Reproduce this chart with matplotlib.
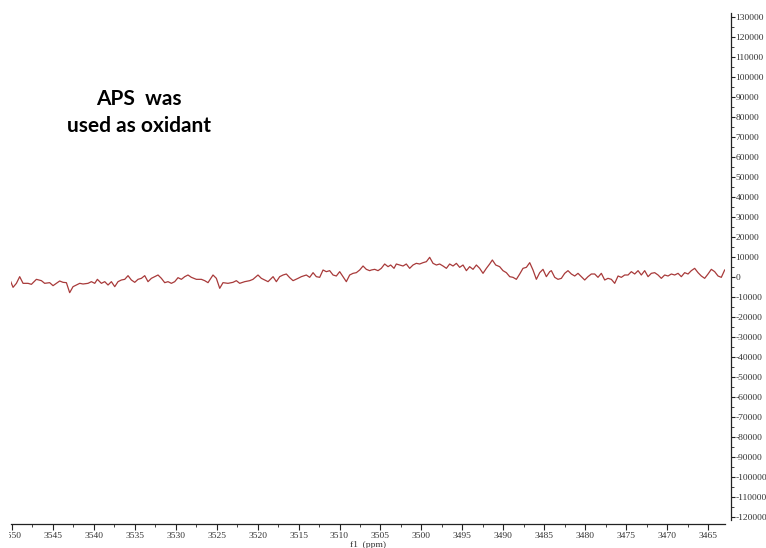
import matplotlib
matplotlib.use("Agg")
import matplotlib.pyplot as plt
from matplotlib.ticker import MultipleLocator, FuncFormatter
from matplotlib.transforms import Bbox

# Field position (ppm) and signal intensity of the recorded spectrum
shift_ppm = [
    3550.12, 3549.84, 3549.43, 3549.03, 3548.62, 3548.01, 3547.60, 3546.99, 3546.38, 3545.98,
    3545.37, 3544.96, 3544.55, 3544.15, 3543.74, 3543.33, 3542.93, 3542.52, 3542.11, 3541.70,
    3541.30, 3540.69, 3540.28, 3539.87, 3539.55, 3539.06, 3538.65, 3538.25, 3537.84, 3537.43,
    3537.03, 3536.62, 3536.21, 3535.81, 3535.40, 3534.99, 3534.59, 3534.18, 3533.77, 3533.37,
    3532.96, 3532.55, 3532.15, 3531.74, 3531.33, 3530.93, 3530.52, 3530.11, 3529.71, 3529.30,
    3528.89, 3528.49, 3528.08, 3527.47, 3526.86, 3526.45, 3526.05, 3525.44, 3525.03, 3524.62,
    3524.22, 3523.61, 3523.00, 3522.59, 3522.18, 3521.57, 3520.96, 3520.56, 3519.95, 3519.54,
    3519.13, 3518.72, 3518.11, 3517.71, 3517.30, 3516.89, 3516.49, 3516.08, 3515.67, 3515.06,
    3514.66, 3514.05, 3513.64, 3513.23, 3512.83, 3512.42, 3512.01, 3511.61, 3511.20, 3510.79,
    3510.39, 3509.98, 3509.57, 3509.17, 3508.76, 3508.35, 3507.95, 3507.54, 3507.13, 3506.73,
    3506.32, 3506.12, 3505.71, 3505.30, 3504.90, 3504.49, 3504.08, 3503.76, 3503.35, 3503.07,
    3502.66, 3502.25, 3501.85, 3501.44, 3501.03, 3500.63, 3500.22, 3499.81, 3499.40, 3499.00,
    3498.59, 3498.18, 3497.78, 3497.37, 3496.96, 3496.56, 3496.15, 3495.74, 3495.34, 3494.93,
    3494.52, 3494.12, 3493.71, 3493.30, 3492.90, 3492.49, 3492.08, 3491.68, 3491.35, 3490.94,
    3490.46, 3490.05, 3489.64, 3489.23, 3488.83, 3488.42, 3488.01, 3487.61, 3487.20, 3486.79,
    3486.39, 3485.98, 3485.57, 3485.17, 3484.76, 3484.35, 3484.15, 3483.74, 3483.34, 3482.93,
    3482.52, 3482.12, 3481.71, 3481.30, 3480.90, 3480.49, 3480.08, 3479.68, 3479.27, 3478.86,
    3478.46, 3478.05, 3477.64, 3477.24, 3476.83, 3476.42, 3476.01, 3475.61, 3475.20, 3474.79,
    3474.39, 3473.98, 3473.57, 3473.17, 3472.76, 3472.35, 3471.95, 3471.54, 3471.13, 3470.73,
    3470.32, 3469.91, 3469.51, 3469.10, 3468.69, 3468.29, 3467.88, 3467.47, 3467.07, 3466.66,
    3466.25, 3465.85, 3465.44, 3465.03, 3464.63, 3464.22, 3463.81, 3463.41, 3463.00,
]

intensity = [
    -2583, -5417, -3417, -83, -3417, -3417, -3917, -1417, -2083, -3417,
    -3083, -4583, -3417, -2250, -2917, -3083, -8083, -5083, -4250, -3417,
    -3750, -3417, -2583, -3417, -1417, -3417, -2583, -4250, -2583, -5083,
    -2583, -1750, -1417, 417, -1750, -2917, -1417, -917, 417, -2583,
    -917, -83, 750, -917, -3083, -2583, -3417, -2583, -583, -1417,
    -83, 750, -417, -1417, -1417, -2083, -3083, 750, -917, -5917,
    -3083, -3417, -2917, -2083, -3417, -2583, -2083, -1417, 750, -917,
    -1750, -2583, -83, -2583, -83, 750, 1250, -583, -2083, -917,
    -83, 750, -417, 1917, -83, -417, 3250, 2417, 2917, 750,
    250, 2417, -83, -2583, 750, 1583, 1917, 3250, 5250, 3583,
    2917, 3250, 3583, 2917, 4083, 6250, 4917, 5750, 4083, 6250,
    5750, 5250, 6250, 4083, 5750, 6583, 6250, 6917, 7417, 9583,
    6583, 5750, 6250, 5250, 4083, 6250, 5250, 6583, 4583, 5750,
    2917, 4917, 3583, 5750, 4083, 1583, 4083, 6250, 8250, 5750,
    4917, 2917, 1917, -83, -417, -1417, 1250, 4083, 4583, 6917,
    3250, -1417, 1917, 3583, -83, 2417, 2917, -417, -1417, -917,
    1583, 2917, 1250, 250, 1583, -83, -1750, -83, 1250, 1250,
    -417, 1583, -1750, -917, -1417, -3417, 250, -417, 750, 750,
    2417, 1250, 2917, 750, 2917, -83, 1583, 1917, 750, -917,
    750, 250, 1250, 750, 1583, -83, 1917, 1250, 2917, 4083,
    1917, 250, -917, 1250, 3583, 2417, 250, -417, 3250,
]

x_range = (3550.09, 3462.96)
y_range = (-121750, 131750)

W, H = 766, 548
fig = plt.figure(figsize=(W / 100, H / 100), dpi=100)
ax = fig.add_axes([11 / W, 1 - 520 / H, (725 - 11) / W, (520 - 13) / H])

ax.plot(shift_ppm, intensity, color="#a83a3a", linewidth=0.9)

ax.set_xlim(*x_range)
ax.set_ylim(*y_range)

tick_family = ["Liberation Serif", "DejaVu Serif"]
tick_size = 6.8
tick_color = "#333333"

# Spines: bottom scale and a detached intensity scale on the right
for side in ("top", "left"):
    ax.spines[side].set_visible(False)
ax.spines["bottom"].set_position(("outward", 3))
ax.spines["right"].set_position(("outward", 4))
for side in ("bottom", "right"):
    ax.spines[side].set_color("#222222")
    ax.spines[side].set_linewidth(0.9)

ax.xaxis.set_major_locator(MultipleLocator(5))
ax.xaxis.set_minor_locator(MultipleLocator(2.5))
ax.yaxis.set_major_locator(MultipleLocator(10000))
ax.yaxis.set_minor_locator(MultipleLocator(5000))
ax.yaxis.set_major_formatter(FuncFormatter(lambda v, p: f"{int(round(v))}"))
ax.xaxis.set_major_formatter(FuncFormatter(lambda v, p: f"{int(round(v))}"))

ax.yaxis.tick_right()
ax.tick_params(axis="x", which="major", direction="out", length=4, width=0.8,
               pad=2, colors="#222222", labelcolor=tick_color)
ax.tick_params(axis="x", which="minor", direction="out", length=2, width=0.6, colors="#222222")
ax.tick_params(axis="y", which="major", direction="out", length=3.2, width=0.8,
               pad=0.3, colors="#222222", labelcolor=tick_color)
ax.tick_params(axis="y", which="minor", direction="out", length=2, width=0.6, colors="#222222")
for lab in ax.get_xticklabels() + ax.get_yticklabels():
    lab.set_fontfamily(tick_family)
    lab.set_fontsize(tick_size)

# The scale labels are confined to the drawing window, which trims the leftmost one
window = Bbox.from_extents(9, 0, W, H)
for lab in ax.get_xticklabels():
    lab.set_clip_box(window)
    lab.set_clip_on(True)

fig.text(368 / W, 1 - 545 / H, "f1  (ppm)", ha="center", va="center",
         family=tick_family, size=tick_size, color=tick_color)

# Annotation describing the sample
ax.text(139 / W, 1 - 99 / H, "APS  was", transform=fig.transFigure, ha="center", va="center",
        family=["Lato", "DejaVu Sans"], weight="bold", size=15, color="black")
ax.text(139 / W, 1 - 126 / H, "used as oxidant", transform=fig.transFigure, ha="center", va="center",
        family=["Lato", "DejaVu Sans"], weight="bold", size=15, color="black")

fig.savefig("out.png", dpi=100, facecolor="white")
